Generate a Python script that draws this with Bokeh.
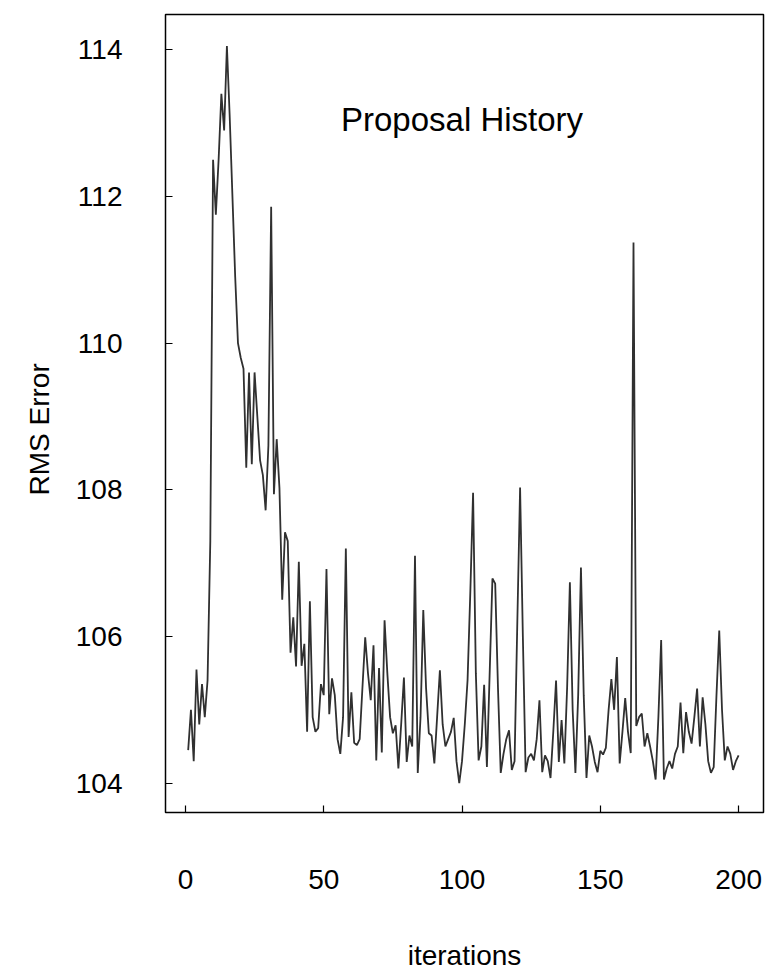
from bokeh.plotting import figure
from bokeh.models import Range1d, FixedTicker, ColumnDataSource, Title
from bokeh.core.properties import value
from bokeh.embed import file_html
from bokeh.resources import INLINE

# ---- data ----
iterations = list(range(1, 201))
rms_error = [
    104.45, 105.00, 104.30, 105.55, 104.80, 105.35, 104.90, 105.40, 107.30, 112.50,
    111.75, 112.50, 113.40, 112.90, 114.05, 113.10, 112.00, 110.90, 110.00, 109.80,
    109.65, 108.30, 109.60, 108.35, 109.60, 109.00, 108.40, 108.20, 107.72, 108.60,
    111.86, 107.94, 108.69, 108.02, 106.50, 107.42, 107.30, 105.78, 106.26, 105.59,
    107.02, 105.60, 105.90, 104.70, 106.48, 104.90, 104.70, 104.75, 105.35, 105.20,
    106.92, 104.94, 105.43, 105.20, 104.60, 104.40, 104.90, 107.20, 104.63, 105.24,
    104.55, 104.52, 104.60, 105.30, 105.99, 105.50, 105.13, 105.88, 104.31, 105.57,
    104.42, 106.22, 105.50, 104.90, 104.68, 104.79, 104.20, 104.80, 105.44, 104.29,
    104.65, 104.50, 107.10, 104.14, 104.90, 106.36, 105.30, 104.68, 104.65, 104.27,
    104.90, 105.54, 104.80, 104.50, 104.60, 104.70, 104.89, 104.30, 104.00, 104.30,
    104.80, 105.40, 106.60, 107.96, 105.50, 104.31, 104.50, 105.34, 104.22, 105.50,
    106.79, 106.72, 105.30, 104.14, 104.40, 104.60, 104.72, 104.18, 104.30, 106.20,
    108.03, 106.00, 104.15, 104.35, 104.40, 104.31, 104.60, 105.13, 104.15, 104.38,
    104.30, 104.07, 104.70, 105.40, 104.29, 104.86, 104.27, 105.30, 106.74, 105.00,
    104.14, 105.20, 106.94, 105.20, 104.07, 104.65, 104.50, 104.29, 104.15, 104.44,
    104.39, 104.48, 105.00, 105.42, 105.00, 105.72, 104.27, 104.70, 105.16, 104.70,
    104.41, 111.37, 104.78, 104.90, 104.95, 104.50, 104.68, 104.50, 104.30, 104.05,
    104.90, 105.95, 104.05, 104.20, 104.30, 104.20, 104.40, 104.50, 105.10, 104.41,
    104.97, 104.70, 104.54, 104.90, 105.29, 104.50, 105.17, 104.80, 104.30, 104.14,
    104.22, 105.20, 106.08, 105.00, 104.31, 104.50, 104.40, 104.18, 104.30, 104.38,
]
x_ticks = [0, 50, 100, 150, 200]
y_ticks = [104, 106, 108, 110, 112, 114]
x_label = "iterations"
y_label = "RMS Error"
title_text = ["Proposal History"]
title_x = [100]
title_y = [113.05]

FONT = "'Liberation Sans Narrow', 'Liberation Sans', Arial, sans-serif"

p = figure(width=772, height=974, output_backend="svg", toolbar_location=None,
           x_range=Range1d(-7.2, 209), y_range=Range1d(103.6, 114.48),
           min_border_left=165, min_border_right=9, min_border_top=14, min_border_bottom=162)

p.background_fill_color = "white"
p.border_fill_color = "white"
p.outline_line_color = "black"
p.outline_line_width = 1.5
p.xgrid.visible = False
p.ygrid.visible = False

src = ColumnDataSource(dict(x=iterations, y=rms_error))
p.line("x", "y", source=src, line_color="#303030", line_width=1.8)

p.text(x=title_x, y=title_y, text=title_text, text_align="center", text_baseline="middle",
       text_font=value(FONT), text_font_size="33px", text_color="black")

for ax, ticks in ((p.xaxis[0], x_ticks), (p.yaxis[0], y_ticks)):
    ax.ticker = FixedTicker(ticks=ticks)
    ax.axis_line_color = None
    ax.major_tick_in = 7
    ax.major_tick_out = 0
    ax.major_tick_line_color = "black"
    ax.major_tick_line_width = 1.2
    ax.minor_tick_line_color = None
    ax.major_label_text_font = FONT
    ax.major_label_text_font_size = "28px"
    ax.major_label_text_color = "black"
    ax.axis_label_text_font = FONT
    ax.axis_label_text_font_size = "28px"
    ax.axis_label_text_font_style = "normal"
    ax.axis_label_text_color = "black"

p.xaxis[0].axis_label = x_label
p.xaxis[0].major_label_standoff = 57
p.xaxis[0].axis_label_standoff = 48
p.yaxis[0].major_label_standoff = 43

ylab = Title(text=y_label, align="left", offset=317, standoff=36,
             text_font=FONT, text_font_size="28px", text_font_style="normal",
             text_color="black")
p.add_layout(ylab, "left")

open("out.html", "w").write(file_html(p, INLINE))
